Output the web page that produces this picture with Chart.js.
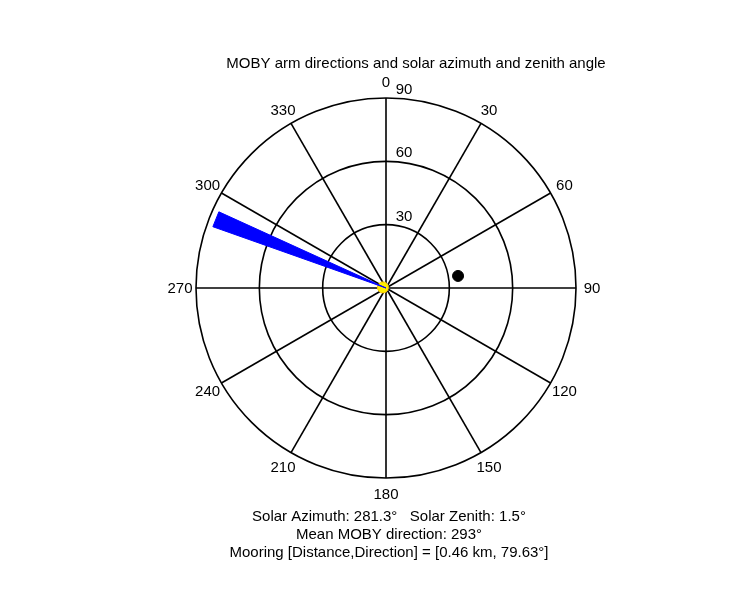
<!DOCTYPE html>
<html><head><meta charset="utf-8">
<script src="https://cdn.jsdelivr.net/npm/chart.js@4/dist/chart.umd.min.js"></script>
<style>html,body{margin:0;background:#fff}#wrap{width:750px;height:600px}</style>
</head><body><div id="wrap"><canvas id="c"></canvas></div>
<script>
// Polar data (bearing in degrees clockwise from north, radius in zenith degrees)
const ringValues = [30, 60, 90];
const spokeAngles = [0, 30, 60, 90, 120, 150, 180, 210, 240, 270, 300, 330];
const wedgeAngles = [289.5, 294.5];
const wedgeRadius = 87;
const mooringPoint = { az: 80.5, r: 34.6 };
const sunPoint = { az: 281.3, r: 1.5 };
const titleText = 'MOBY arm directions and solar azimuth and zenith angle';
const footerLines = [
  'Solar Azimuth: 281.3°   Solar Zenith: 1.5°',
  'Mean MOBY direction: 293°',
  'Mooring [Distance,Direction] = [0.46 km, 79.63°]'
];

const toXY = (az, r) => {
  const t = az * Math.PI / 180;
  return { x: r * Math.sin(t), y: r * Math.cos(t) };
};

const wedge = [toXY(0, 0), toXY(wedgeAngles[0], wedgeRadius), toXY(wedgeAngles[1], wedgeRadius), toXY(0, 0)];

const FONT = '15px "Liberation Sans", Arial, sans-serif';

const polarGrid = {
  id: 'polarGrid',
  beforeDatasetsDraw(chart) {
    const { ctx, scales: { x, y } } = chart;
    const cx = x.getPixelForValue(0), cy = y.getPixelForValue(0);
    const px = v => x.getPixelForValue(v) - cx;
    ctx.save();
    ctx.strokeStyle = '#000';
    ctx.lineWidth = 1.6;
    ringValues.forEach(r => {
      ctx.beginPath();
      ctx.arc(cx, cy, px(r), 0, Math.PI * 2);
      ctx.stroke();
    });
    const R = px(90);
    spokeAngles.forEach(a => {
      const p = toXY(a, 90);
      ctx.beginPath();
      ctx.moveTo(cx, cy);
      ctx.lineTo(x.getPixelForValue(p.x), y.getPixelForValue(p.y));
      ctx.stroke();
    });
    ctx.fillStyle = '#000';
    ctx.font = FONT;
    ctx.textAlign = 'center';
    ctx.textBaseline = 'middle';
    spokeAngles.forEach(a => {
      const t = a * Math.PI / 180;
      ctx.fillText(String(a), cx + (R + 16) * Math.sin(t), cy - (R + 16) * Math.cos(t) + 1);
    });
    ringValues.forEach(r => {
      ctx.fillText(String(r), cx + 18, cy - px(r) - 8);
    });
    ctx.fillText(titleText, 416, 64);
    footerLines.forEach((s, i) => ctx.fillText(s, 389, 517 + i * 18));
    ctx.restore();
  }
};

new Chart(document.getElementById('c'), {
  type: 'scatter',
  data: {
    datasets: [
      { data: wedge, showLine: true, fill: 'shape', backgroundColor: '#0000ff', borderColor: '#0000ff', borderWidth: 1, pointRadius: 0, tension: 0 },
      { data: [toXY(mooringPoint.az, mooringPoint.r)], pointRadius: 5.5, backgroundColor: '#000', borderColor: '#000' },
      { data: [toXY(sunPoint.az, sunPoint.r)], pointRadius: 5.5, backgroundColor: '#ffee00', borderColor: '#ffcc00' }
    ]
  },
  plugins: [polarGrid],
  options: {
    responsive: true, maintainAspectRatio: false, animation: false,
    layout: { padding: { left: 196, right: 174, top: 98, bottom: 122 } },
    plugins: { legend: { display: false }, tooltip: { enabled: false } },
    scales: {
      x: { type: 'linear', min: -90, max: 90, display: false },
      y: { type: 'linear', min: -90, max: 90, display: false }
    }
  }
});
</script></body></html>
